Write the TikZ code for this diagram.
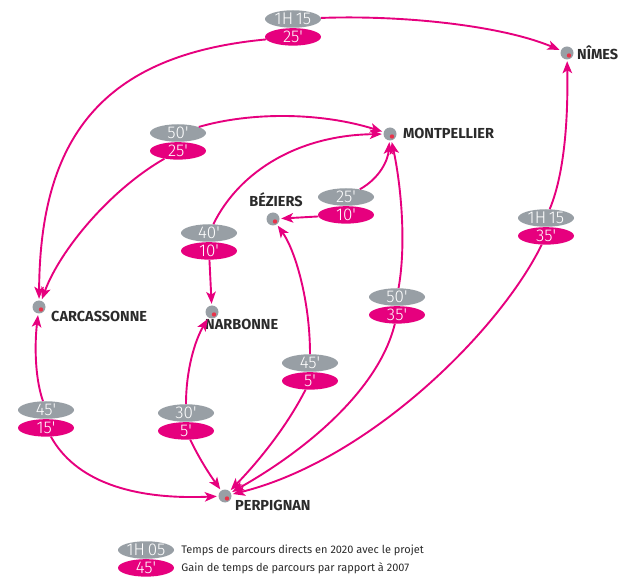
\documentclass[tikz,border=0pt]{standalone}
\usepackage{fontspec}
\setmainfont{Fira Sans}
\newfontfamily\fin{Fira Sans Light}
\usetikzlibrary{positioning,shapes.geometric,arrows.meta}
\definecolor{rose}{HTML}{E6007E}
\definecolor{gris}{HTML}{989FA5}
\definecolor{rouge}{HTML}{E8334A}
\definecolor{texte}{HTML}{2B2B2B}
\newcommand{\minu}{\textquotesingle}
\tikzset{
    ville/.style={circle,fill=gris,minimum size=13pt,inner sep=0pt},
    temps/.style={ellipse,fill=gris,text=white,minimum width=56pt,minimum height=17.5pt,
        inner sep=0pt,text height=11.5pt,text depth=0pt,font=\fin\fontsize{17}{17}\selectfont},
    gain/.style={temps,fill=rose},
    nom/.style={anchor=west,inner sep=0pt,text=texte,font=\bfseries\fontsize{14.5}{14.5}\selectfont},
    legende/.style={anchor=west,inner sep=0pt,text=texte,font=\fontsize{11}{11}\selectfont},
    lien/.style={draw=rose,line width=1.9pt,shorten >=1.5pt,
        -{Stealth[length=12pt,width=9.5pt,inset=3pt]}}
}
\begin{document}
\begin{tikzpicture}[x=1pt,y=-1pt]
    \useasboundingbox (0,0) rectangle (619,577);
    \foreach \v/\x/\y in {nim/567/53, mon/390/134, bez/273/219,
        car/39/307, nar/212/312, per/225/496}{
      \node[ville] (\v) at (\x,\y) {};
      \fill[rouge] (\x+2,\y+2.5) circle (2.2pt);
    }
    \node[nom] (lnim) at (577,53) {NÎMES};
    \node[nom] (lmon) at (403,133) {MONTPELLIER};
    \node[nom,anchor=center] (lbez) at (276,200) {BÉZIERS};
    \node[nom] (lcar) at (51,316) {CARCASSONNE};
    \node[nom] (lnar) at (205,324) {NARBONNE};
    \node[nom] (lper) at (235,505) {PERPIGNAN};

    \foreach \b/\x/\y/\t/\g in {
        A/293/19/1H\,15/25\minu,
        B/178/133/50\minu/25\minu,
        C/209/233/40\minu/10\minu,
        D/346/197/25\minu/10\minu,
        E/397/297/50\minu/35\minu,
        F/310/363/45\minu/5\minu,
        G/546/218/1H\,15/35\minu,
        H/46/410/45\minu/15\minu,
        I/186/413/30\minu/5\minu,
        L/146/550/1H\,05/45\minu}{
      \node[temps] (t\b) at (\x,\y) {\t};
      \node[gain,below=0pt of t\b] (g\b) {\g};
    }

    \draw[lien] (tA) .. controls (400,15) and (500,25) .. (nim);
    \draw[lien] (gA) .. controls (100,55) and (40,140) .. (car);
    \draw[lien] (tB) .. controls (250,112) and (320,112) .. (mon);
    \draw[lien] (gB) .. controls (110,190) and (60,250) .. (car);
    \draw[lien] (tC) .. controls (240,170) and (300,135) .. (mon);
    \draw[lien] (gC) -- (nar);
    \draw[lien] (tD) .. controls (380,178) and (388,160) .. (mon);
    \draw[lien] (gD) -- (bez);
    \draw[lien] (tE) .. controls (407,240) and (400,180) .. (mon);
    \draw[lien] (gE) .. controls (380,385) and (315,445) .. (per);
    \draw[lien] (tF) .. controls (310,300) and (295,250) .. (bez);
    \draw[lien] (gF) .. controls (285,430) and (255,465) .. (per);
    \draw[lien] (tG) .. controls (566,170) and (568,110) .. (nim);
    \draw[lien] (gG) .. controls (500,330) and (370,460) .. (per);
    \draw[lien] (tH) .. controls (34,375) and (35,340) .. (car);
    \draw[lien] (gH) .. controls (75,480) and (130,500) .. (per);
    \draw[lien] (tI) .. controls (186,370) and (195,340) .. (nar);
    \draw[lien] (gI) .. controls (200,460) and (210,475) .. (per);

    \node[legende,right=7pt of tL] (ltemps) {Temps de parcours directs en 2020 avec le projet};
    \node[legende,right=7pt of gL] (lgain) {Gain de temps de parcours par rapport à 2007};
\end{tikzpicture}
\end{document}
